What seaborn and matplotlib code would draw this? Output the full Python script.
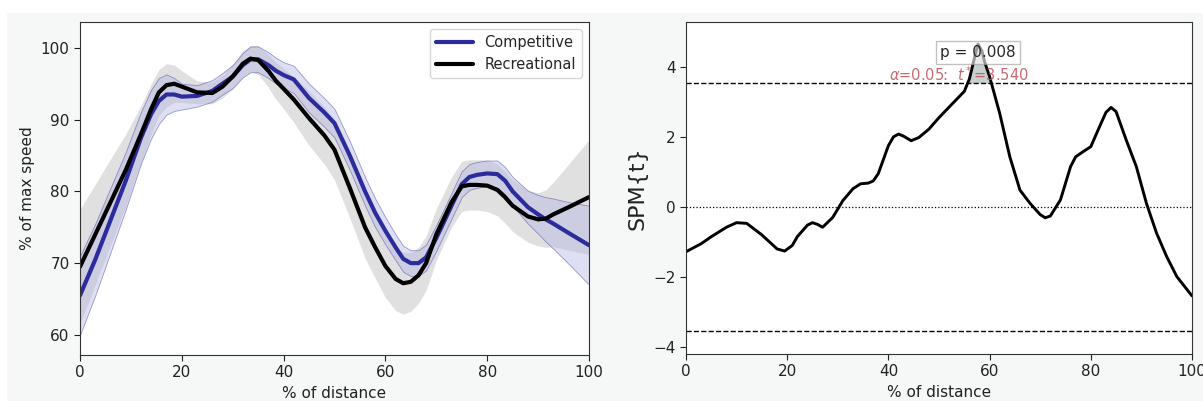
import numpy as np
import pandas as pd
import matplotlib
matplotlib.use("Agg")
import matplotlib.pyplot as plt
import seaborn as sns

# ---------------- data ----------------
dist = [0, 3, 6, 9, 12, 14, 15.5, 17, 18.5, 20, 23, 26, 28, 30, 32, 33.5, 35, 37, 38.5, 40,
        42, 45, 48, 50, 53, 56, 58, 60, 62, 63.5, 65, 66.5, 68, 70, 73, 75, 76.5, 78, 80,
        82, 83.5, 85, 88, 90, 91.5, 93, 96, 100]
competitive = [65.5, 70.5, 76.0, 81.5, 87.5, 90.8, 92.6, 93.5, 93.5, 93.2, 93.3, 94.0, 95.0,
               96.0, 97.6, 98.4, 98.4, 97.6, 96.8, 96.2, 95.6, 93.0, 91.0, 89.5, 85.0, 80.0,
               77.0, 74.5, 72.2, 70.6, 70.0, 70.0, 70.8, 73.5, 78.0, 81.0, 82.0, 82.3, 82.5,
               82.4, 81.5, 80.0, 77.8, 76.8, 76.1, 75.5, 74.2, 72.5]
competitive_sd = [5.5, 5.0, 4.5, 4.0, 3.6, 3.4, 3.2, 2.8, 2.3, 1.8, 1.5, 1.5, 1.5, 1.6, 1.7,
                  1.8, 1.8, 1.8, 1.8, 1.8, 1.9, 2.0, 2.0, 2.0, 2.0, 2.0, 2.0, 1.9, 1.8, 1.8,
                  1.8, 1.8, 1.8, 1.8, 1.8, 1.8, 1.8, 1.8, 1.8, 1.9, 1.9, 2.0, 2.3, 2.7, 3.1,
                  3.5, 4.3, 5.5]
recreational = [69.5, 74.0, 78.5, 83.0, 88.0, 91.5, 93.8, 94.8, 95.0, 94.6, 93.8, 93.7, 94.6,
                96.0, 97.8, 98.5, 98.3, 96.8, 95.4, 94.3, 92.8, 90.2, 87.8, 85.8, 80.5, 75.0,
                72.2, 69.6, 67.8, 67.2, 67.4, 68.3, 70.0, 74.0, 78.5, 80.7, 80.9, 80.9, 80.8,
                80.2, 79.2, 78.0, 76.5, 76.1, 76.2, 76.8, 77.8, 79.2]
recreational_sd = [8.0, 7.0, 6.0, 5.0, 4.0, 3.5, 3.2, 3.0, 2.6, 2.2, 1.6, 1.5, 1.6, 1.7, 1.8,
                   1.8, 2.0, 2.3, 2.6, 2.8, 3.2, 3.8, 4.0, 4.2, 4.2, 4.3, 4.3, 4.4, 4.4, 4.3,
                   4.1, 3.9, 3.8, 3.6, 3.5, 3.5, 3.5, 3.5, 3.6, 3.6, 3.6, 3.6, 3.6, 3.7, 4.0,
                   4.5, 6.0, 8.0]

spm_x = [0, 3, 5, 8, 10, 12, 15, 18, 19.5, 21, 22, 24, 25, 26, 27, 29, 31, 33, 34.5, 36, 37,
         38, 39, 40, 41, 42, 43, 44.5, 46, 48, 50, 53, 55, 56, 57, 57.7, 58.5, 59, 60, 62,
         64, 66, 68, 70, 71, 72, 74, 76, 77, 78.5, 80, 82, 83, 84, 85, 87, 89, 91, 93, 95,
         97, 100]
spm_t = [-1.28, -1.05, -0.85, -0.58, -0.45, -0.47, -0.80, -1.20, -1.26, -1.10, -0.85, -0.52,
         -0.45, -0.50, -0.58, -0.30, 0.18, 0.52, 0.66, 0.68, 0.74, 0.95, 1.35, 1.75, 2.00,
         2.08, 2.02, 1.89, 1.98, 2.22, 2.55, 3.00, 3.30, 3.65, 4.25, 4.65, 4.45, 4.15, 3.72,
         2.67, 1.43, 0.48, 0.10, -0.22, -0.31, -0.26, 0.20, 1.15, 1.43, 1.58, 1.72, 2.38,
         2.70, 2.84, 2.72, 1.91, 1.15, 0.10, -0.75, -1.42, -1.99, -2.54]
t_crit = 3.540
p_value = 0.008
alpha = 0.05

# ---------------- style ----------------
sns.set_style("ticks")
plt.rcParams['font.family'] = ['DejaVu Sans']
blue = "#2b2b9c"
bg = "#f6f7f7"

fig = plt.figure(figsize=(12.03, 4.01), dpi=100, facecolor="white")
fig.patches.append(plt.Rectangle((7 / 1203, 0), 1 - 7 / 1203, 1 - 13 / 401,
                                 transform=fig.transFigure, facecolor=bg,
                                 edgecolor="none", zorder=-10))
ax1 = fig.add_axes([80 / 1203, 1 - 355 / 401, (589 - 80) / 1203, (355 - 22) / 401])
ax2 = fig.add_axes([686 / 1203, 1 - 354 / 401, (1192 - 686) / 1203, (354 - 22) / 401])

# ---------------- left panel ----------------
df = pd.DataFrame({
    "dist": dist * 2,
    "speed": competitive + recreational,
    "group": ["Competitive"] * len(dist) + ["Recreational"] * len(dist),
})
c = np.array(competitive); cs = np.array(competitive_sd)
r = np.array(recreational); rs = np.array(recreational_sd)
ax1.fill_between(dist, r - rs, r + rs, color="#c8c8c8", alpha=0.55, lw=0)
ax1.fill_between(dist, c - cs, c + cs, facecolor="#b8b8e6", alpha=0.45,
                 edgecolor=blue, lw=0.6)
sns.lineplot(data=df, x="dist", y="speed", hue="group",
             palette={"Competitive": blue, "Recreational": "black"},
             linewidth=3, ax=ax1, estimator=None, sort=False)
for ln in ax1.lines:
    ln.set_solid_joinstyle("round")
ax1.set_xlim(0, 100)
ax1.set_ylim(57.2, 103.6)
ax1.set_xticks([0, 20, 40, 60, 80, 100])
ax1.set_yticks([60, 70, 80, 90, 100])
ax1.set_xlabel("% of distance", fontsize=11, color="#222222")
ax1.set_ylabel("% of max speed", fontsize=11, color="#222222")
ax1.tick_params(labelsize=11, colors="#222222", length=4)
leg = ax1.legend(loc="upper right", fontsize=10.5, frameon=True, handlelength=2.5)
leg.get_frame().set_edgecolor("#cccccc")
for s in ax1.spines.values():
    s.set_color("#333333")

# ---------------- right panel ----------------
sx = np.array(spm_x); st = np.array(spm_t)
sns.lineplot(x=spm_x, y=spm_t, color="black", linewidth=2.1, ax=ax2,
             estimator=None, sort=False)
for ln in ax2.lines:
    ln.set_solid_joinstyle("round")
ax2.fill_between(sx, t_crit, st, where=st > t_crit, interpolate=True,
                 color="#b9c4c4", alpha=0.8, lw=0)
ax2.axhline(t_crit, color="black", ls="--", lw=1)
ax2.axhline(-t_crit, color="black", ls="--", lw=1)
ax2.axhline(0, color="black", ls=":", lw=0.9)
ax2.text(54, 3.77, r"$\alpha$=%.2f:  $t^*$=%.3f" % (alpha, t_crit), color="#c0505a",
         ha="center", va="center", fontsize=10.5, alpha=0.85)
ax2.text(57.7, 4.4, "p = %.3f" % p_value, ha="center", va="center", fontsize=11,
         bbox=dict(facecolor="white", edgecolor="#999999", alpha=0.6, pad=3))
ax2.set_xlim(0, 100)
ax2.set_ylim(-4.2, 5.28)
ax2.set_xticks([0, 20, 40, 60, 80, 100])
ax2.set_yticks([-4, -2, 0, 2, 4])
ax2.set_xlabel("% of distance", fontsize=11, color="#222222")
ax2.set_ylabel("SPM{t}", fontsize=16, color="#222222")
ax2.tick_params(labelsize=11, colors="#222222", length=4)
for s in ax2.spines.values():
    s.set_color("#333333")

fig.savefig("out.png", dpi=100, facecolor=fig.get_facecolor())
